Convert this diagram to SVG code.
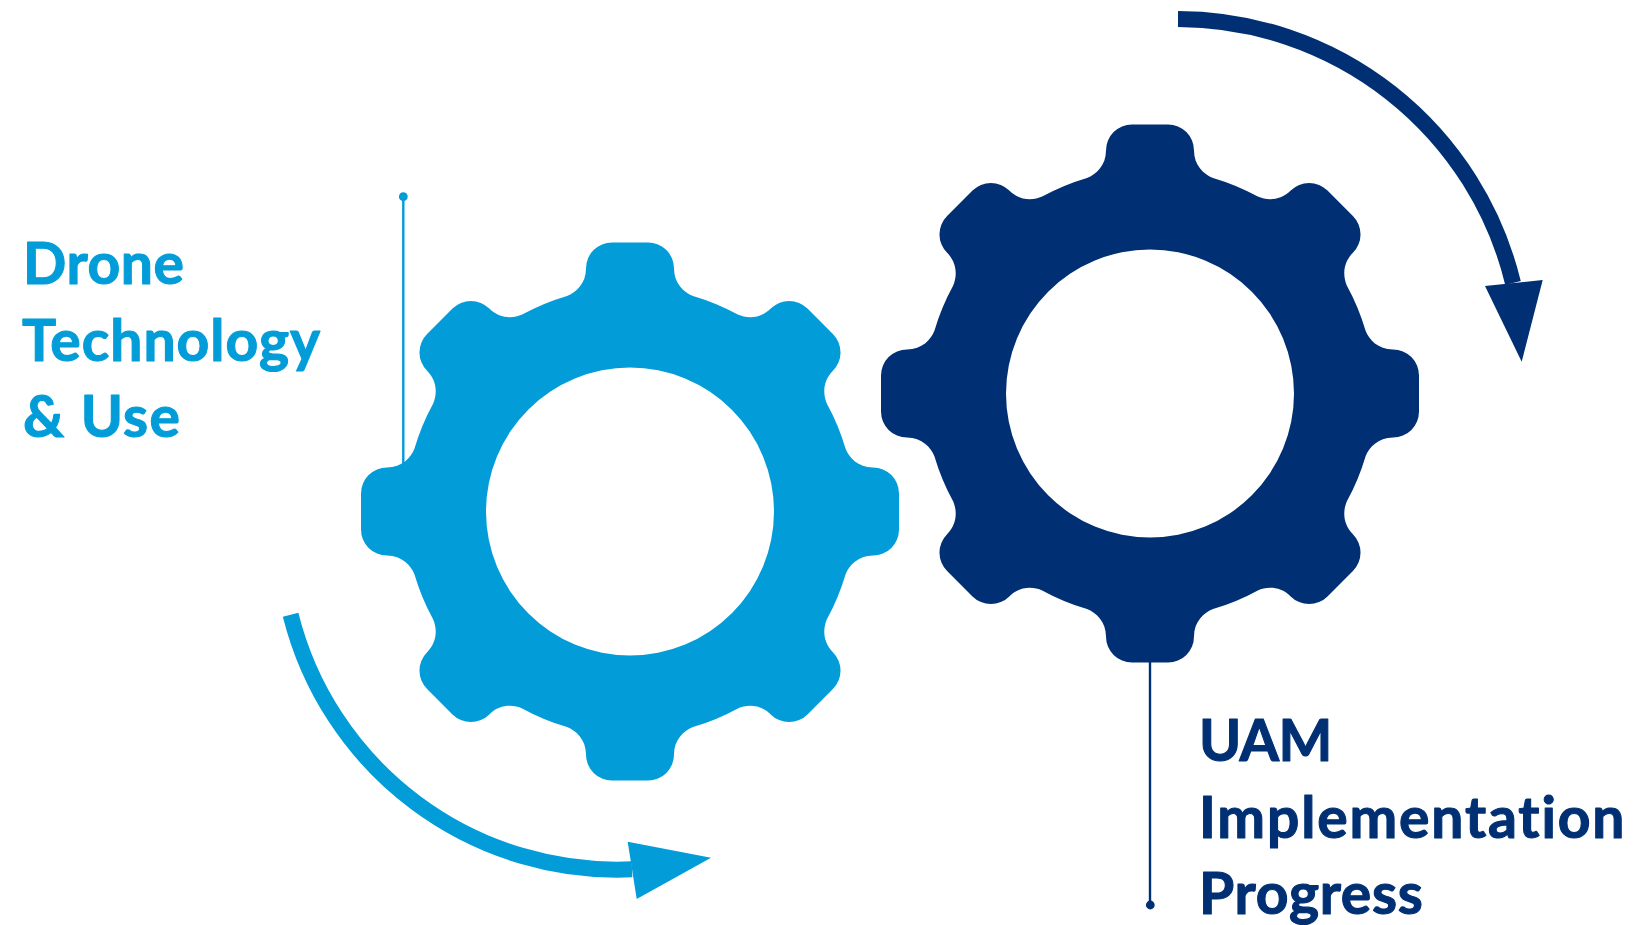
<svg xmlns="http://www.w3.org/2000/svg" width="1633" height="925" viewBox="0 0 1633 925">
<style>
text{font-family:"Lato","Carlito","Open Sans",sans-serif;font-weight:700;font-size:57px;font-variant-ligatures:none;stroke-width:1.1px;stroke-linejoin:round}
.blue{fill:#029dd9}
.navy{fill:#003073}
text.blue{stroke:#029dd9}
text.navy{stroke:#003073}
.bline{stroke:#029dd9;fill:none}
.nline{stroke:#003073;fill:none}
</style>
<defs>
<path id="gear" fill-rule="evenodd" d="M-63-215.5C-54-219-44-228-44-243A26 26 0 0 1-18-269H18A26 26 0 0 1 44-243C44-228 54-219 63-215.5A224.5 224.5 0 0 1 107.8-196.9C116.7-193 130.1-192.3 140.7-202.9A26 26 0 0 1 177.5-202.9L202.9-177.5A26 26 0 0 1 202.9-140.7C192.3-130.1 193-116.7 196.9-107.8A224.5 224.5 0 0 1 215.5-63C219-54 228-44 243-44A26 26 0 0 1 269-18V18A26 26 0 0 1 243 44C228 44 219 54 215.5 63A224.5 224.5 0 0 1 196.9 107.8C193 116.7 192.3 130.1 202.9 140.7A26 26 0 0 1 202.9 177.5L177.5 202.9A26 26 0 0 1 140.7 202.9C130.1 192.3 116.7 193 107.8 196.9A224.5 224.5 0 0 1 63 215.5C54 219 44 228 44 243A26 26 0 0 1 18 269H-18A26 26 0 0 1-44 243C-44 228-54 219-63 215.5A224.5 224.5 0 0 1-107.8 196.9C-116.7 193-130.1 192.3-140.7 202.9A26 26 0 0 1-177.5 202.9L-202.9 177.5A26 26 0 0 1-202.9 140.7C-192.3 130.1-193 116.7-196.9 107.8A224.5 224.5 0 0 1-215.5 63C-219 54-228 44-243 44A26 26 0 0 1-269 18V-18A26 26 0 0 1-243-44C-228-44-219-54-215.5-63A224.5 224.5 0 0 1-196.9-107.8C-193-116.7-192.3-130.1-202.9-140.7A26 26 0 0 1-202.9-177.5L-177.5-202.9A26 26 0 0 1-140.7-202.9C-130.1-192.3-116.7-193-107.8-196.9A224.5 224.5 0 0 1-63-215.5ZM144 0A144 144 0 1 0-144 0A144 144 0 1 0 144 0Z"/>
</defs>
<g id="connectors">
<line class="bline" stroke-width="2.4" x1="403.3" y1="197" x2="403.3" y2="466"/>
<circle class="blue" cx="403.3" cy="196.7" r="4.4"/>
<line class="nline" stroke-width="2.4" x1="1150" y1="660" x2="1150" y2="905"/>
<circle class="navy" cx="1150.3" cy="905" r="4.4"/>
<path class="nline" stroke-width="16" d="M1178 19A345.5 345.5 0 0 1 1513 283"/>
<polygon class="navy" points="1485,286 1542.7,280 1521.7,361.7"/>
<path class="bline" stroke-width="16" d="M290.6 614.7A336.6 336.6 0 0 0 632 869.3"/>
<polygon class="blue" points="627.7,841.7 711,857.7 636.7,899"/>
</g>
<g id="gear-drone"><use href="#gear" class="blue" x="630" y="511.5"/></g>
<g id="gear-uam"><use href="#gear" class="navy" x="1150" y="393.5"/></g>
<g id="label-drone">
<text class="blue" x="23" y="284" letter-spacing="0.6">Drone</text>
<text class="blue" x="22" y="361" letter-spacing="1">Technology</text>
<text class="blue" x="23" y="437" letter-spacing="1.3">&amp; Use</text>
</g>
<g id="label-uam">
<text class="navy" x="1199" y="761" letter-spacing="-0.7">UAM</text>
<text class="navy" x="1199" y="838" letter-spacing="1.85">Implementation</text>
<text class="navy" x="1199" y="914" letter-spacing="0.7">Progress</text>
</g>
</svg>
